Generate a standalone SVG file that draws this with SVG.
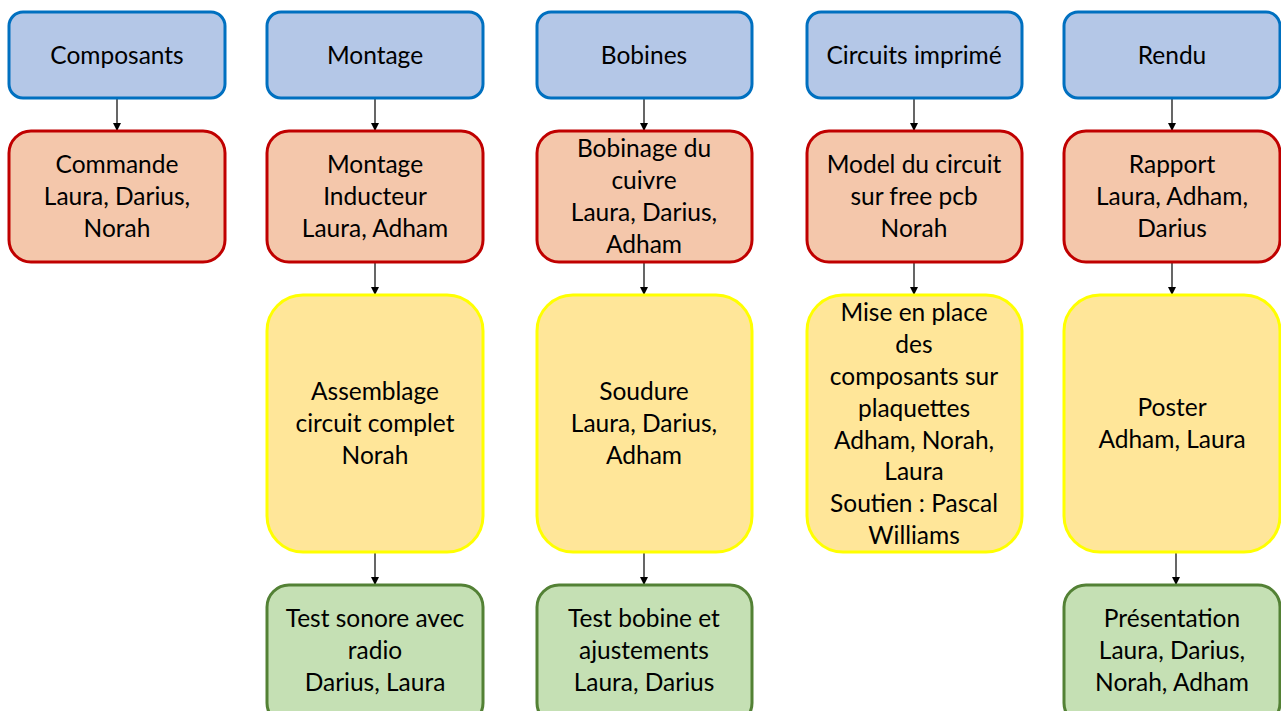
<svg xmlns="http://www.w3.org/2000/svg" width="1281" height="711" viewBox="0 0 1281 711">
<defs>
<marker id="ah" markerWidth="8" markerHeight="10" refX="8" refY="4" orient="auto" markerUnits="userSpaceOnUse" viewBox="0 0 8 8">
<path d="M0,0 L8,4 L0,8 Z" fill="#000"/>
</marker>
<style>
.blue{fill:#B4C7E7;stroke:#0070C0;stroke-width:3}
.red{fill:#F4C7AB;stroke:#C00000;stroke-width:3}
.yel{fill:#FFE699;stroke:#FFFF00;stroke-width:3}
.grn{fill:#C5E0B4;stroke:#538135;stroke-width:3}
text{font-family:"Lato","Open Sans","Liberation Sans",sans-serif;font-size:24.5px;fill:#000;text-anchor:middle}
.c line{stroke:#000;stroke-width:1.2;marker-end:url(#ah)}
</style>
</defs>
<rect width="1281" height="711" fill="#fff"/>
<g class="c" id="connectors">
<line x1="117" y1="98" x2="117" y2="131"/>
<line x1="375" y1="98" x2="375" y2="131"/>
<line x1="644" y1="98" x2="644" y2="131"/>
<line x1="914" y1="98" x2="914" y2="131"/>
<line x1="1172" y1="98" x2="1172" y2="131"/>
<line x1="375" y1="262" x2="375" y2="295"/>
<line x1="644" y1="262" x2="644" y2="295"/>
<line x1="914" y1="262" x2="914" y2="295"/>
<line x1="1172" y1="262" x2="1172" y2="295"/>
<line x1="375" y1="552" x2="375" y2="585"/>
<line x1="644" y1="552" x2="644" y2="585"/>
<line x1="1176" y1="552" x2="1176" y2="585"/>
</g>
<g id="b1"><rect class="blue" x="9" y="12" width="216" height="86" rx="14"/><text x="117" y="64">Composants</text></g>
<g id="b2"><rect class="blue" x="267" y="12" width="216" height="86" rx="14"/><text x="375" y="64">Montage</text></g>
<g id="b3"><rect class="blue" x="537" y="12" width="215" height="86" rx="14"/><text x="644" y="64">Bobines</text></g>
<g id="b4"><rect class="blue" x="807" y="12" width="215" height="86" rx="14"/><text x="914" y="64">Circuits imprimé</text></g>
<g id="b5"><rect class="blue" x="1064" y="12" width="216" height="86" rx="14"/><text x="1172" y="64">Rendu</text></g>

<g id="r1"><rect class="red" x="9" y="131" width="216" height="131" rx="22"/><text x="117" y="173">Commande</text><text x="117" y="205">Laura, Darius,</text><text x="117" y="237">Norah</text></g>
<g id="r2"><rect class="red" x="267" y="131" width="216" height="131" rx="22"/><text x="375" y="173">Montage</text><text x="375" y="205">Inducteur</text><text x="375" y="237">Laura, Adham</text></g>
<g id="r3"><rect class="red" x="537" y="131" width="215" height="131" rx="22"/><text x="644" y="157">Bobinage du</text><text x="644" y="189">cuivre</text><text x="644" y="221">Laura, Darius,</text><text x="644" y="253">Adham</text></g>
<g id="r4"><rect class="red" x="807" y="131" width="215" height="131" rx="22"/><text x="914" y="173">Model du circuit</text><text x="914" y="205">sur free pcb</text><text x="914" y="237">Norah</text></g>
<g id="r5"><rect class="red" x="1064" y="131" width="216" height="131" rx="22"/><text x="1172" y="173">Rapport</text><text x="1172" y="205">Laura, Adham,</text><text x="1172" y="237">Darius</text></g>

<g id="y2"><rect class="yel" x="267" y="295" width="216" height="257" rx="36"/><text x="375" y="400">Assemblage</text><text x="375" y="432">circuit complet</text><text x="375" y="464">Norah</text></g>
<g id="y3"><rect class="yel" x="537" y="295" width="215" height="257" rx="36"/><text x="644" y="400">Soudure</text><text x="644" y="432">Laura, Darius,</text><text x="644" y="464">Adham</text></g>
<g id="y4"><rect class="yel" x="807" y="295" width="215" height="257" rx="36"/><text x="914" y="321">Mise en place</text><text x="914" y="353">des</text><text x="914" y="385">composants sur</text><text x="914" y="417">plaquettes</text><text x="914" y="449">Adham, Norah,</text><text x="914" y="480">Laura</text><text x="914" y="512">Soutien : Pascal</text><text x="914" y="544">Williams</text></g>
<g id="y5"><rect class="yel" x="1064" y="295" width="216" height="257" rx="36"/><text x="1172" y="416">Poster</text><text x="1172" y="448">Adham, Laura</text></g>

<g id="g2"><rect class="grn" x="267" y="585" width="216" height="140" rx="22"/><text x="375" y="627">Test sonore avec</text><text x="375" y="659">radio</text><text x="375" y="691">Darius, Laura</text></g>
<g id="g3"><rect class="grn" x="537" y="585" width="215" height="140" rx="22"/><text x="644" y="627">Test bobine et</text><text x="644" y="659">ajustements</text><text x="644" y="691">Laura, Darius</text></g>
<g id="g5"><rect class="grn" x="1064" y="585" width="216" height="140" rx="22"/><text x="1172" y="627">Présentation</text><text x="1172" y="659">Laura, Darius,</text><text x="1172" y="691">Norah, Adham</text></g>
</svg>
